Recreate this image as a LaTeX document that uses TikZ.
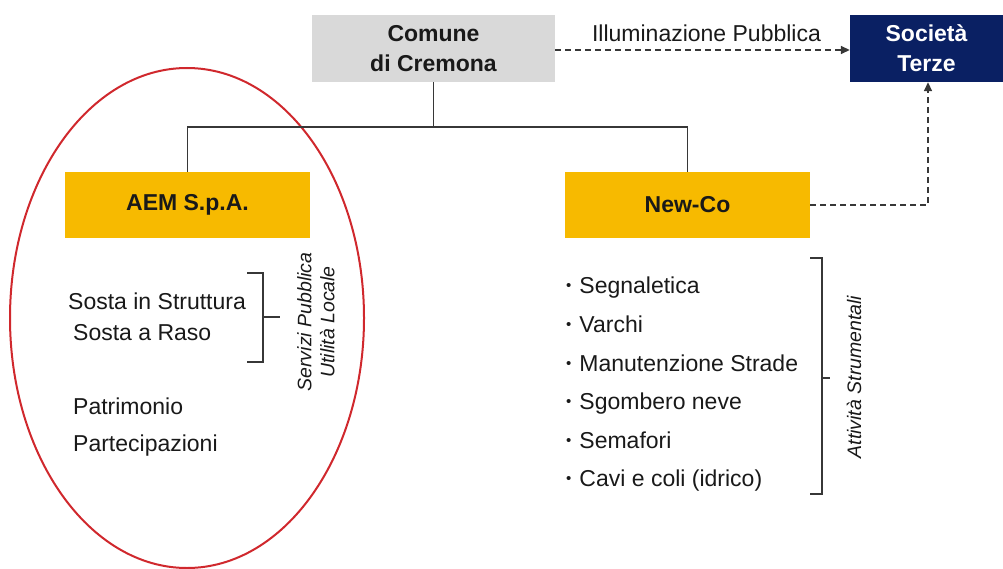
\documentclass[tikz,border=0pt]{standalone}
\usepackage{fontspec}
\setmainfont{Liberation Sans}
\usetikzlibrary{shapes.geometric,arrows.meta}
\definecolor{boxgray}{RGB}{217,217,217}
\definecolor{boxyellow}{RGB}{247,186,0}
\definecolor{boxnavy}{RGB}{10,32,99}
\definecolor{ringred}{RGB}{208,40,45}
\definecolor{linegray}{RGB}{55,55,55}
\definecolor{txt}{RGB}{25,25,25}
\tikzset{
  box/.style={rectangle, inner sep=0pt, align=center, text=txt,
    font=\fontsize{23}{30}\selectfont\bfseries},
  tree/.style={draw=linegray, line width=1.8pt},
  dashedarrow/.style={draw=linegray, line width=1.6pt, dash pattern=on 6pt off 4pt, -{Triangle[length=9pt,width=8pt]}},
  bracketline/.style={draw=linegray, line width=1.5pt},
  plain/.style={anchor=base west, inner sep=0pt, text=txt, font=\fontsize{23}{27}\selectfont},
  sidelabel/.style={rotate=90, inner sep=0pt, align=center, text=txt, font=\fontsize{19.5}{23}\selectfont\itshape},
}
\newcommand{\bul}{{\fontsize{15}{15}\selectfont\raisebox{0.35ex}{•}}\hspace{8pt}}
\begin{document}
\begin{tikzpicture}[x=1pt,y=-1pt]
\useasboundingbox (0,0) rectangle (1003,569);
% ellipse
\node[ellipse, draw=ringred, line width=2pt, minimum width=354pt, minimum height=500pt, inner sep=0pt] (ring) at (187,318) {};
% boxes
\node[box, fill=boxgray, minimum width=243pt, minimum height=67pt] (comune) at (433.5,48.5) {Comune\\di Cremona};
\node[box, fill=boxnavy, text=white, minimum width=153pt, minimum height=67pt] (terze) at (926.5,48.5) {Società\\Terze};
\node[box, fill=boxyellow, minimum width=245pt, minimum height=66pt] (aem) at (187.5,205) {AEM S.p.A.};
\node[box, fill=boxyellow, minimum width=245pt, minimum height=66pt] (newco) at (687.5,205) {New-Co};
% tree
\coordinate (hub) at (433.5,127);
\draw[tree] (comune.south) -- (hub);
\draw[tree] (aem.north) |- (hub) -| (newco.north);
% dashed arrows
\draw[dashedarrow] (comune.east |- 0,50) -- (terze.west |- 0,50);
\node[anchor=base, inner sep=0pt, text=txt, font=\fontsize{23}{27}\selectfont] (illum) at (706.5,42) {Illuminazione Pubblica};
\coordinate (corner) at (928,205);
\draw[dashedarrow] (newco.east) -- (corner) -- (corner |- terze.south);
% AEM list
\node[plain] (s1) at (68,309) {Sosta in Struttura};
\node[plain] (s2) at (73,340) {Sosta a Raso};
\node[plain] (s3) at (73,414) {Patrimonio};
\node[plain] (s4) at (73,451) {Partecipazioni};
\coordinate (b1t) at (263,273);
\coordinate (b1b) at (263,362);
\coordinate (b1m) at (263,317);
\draw[bracketline] (247,273) -- (b1t) -- (b1b) -- (247,362);
\draw[bracketline] (b1m) -- (280,317);
\node[sidelabel] (serv) at (316,322) {Servizi Pubblica\\Utilità Locale};
% New-Co list
\node[plain] (n1) at (566,293) {\bul Segnaletica};
\node[plain] (n2) at (566,332) {\bul Varchi};
\node[plain] (n3) at (566,371) {\bul Manutenzione Strade};
\node[plain] (n4) at (566,409) {\bul Sgombero neve};
\node[plain] (n5) at (566,448) {\bul Semafori};
\node[plain] (n6) at (566,486) {\bul Cavi e coli (idrico)};
\coordinate (b2t) at (822,258);
\coordinate (b2b) at (822,494);
\coordinate (b2m) at (822,378);
\draw[bracketline] (810,258) -- (b2t) -- (b2b) -- (810,494);
\draw[bracketline] (b2m) -- (830,378);
\node[sidelabel] (attiv) at (854,377) {Attività Strumentali};
\end{tikzpicture}
\end{document}
